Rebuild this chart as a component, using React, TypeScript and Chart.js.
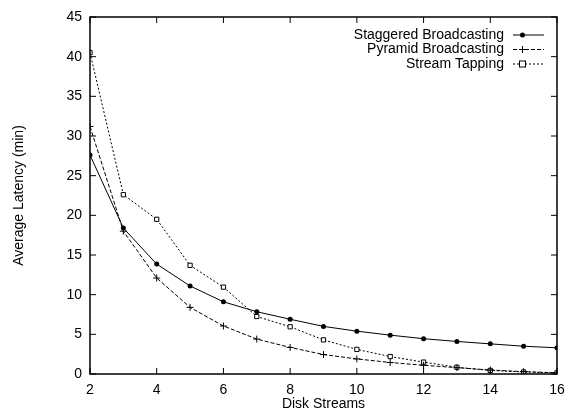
import React, { useEffect, useRef } from "react";
import { Chart, registerables } from "chart.js";

Chart.register(...registerables);

const diskStreams = [2, 3, 4, 5, 6, 7, 8, 9, 10, 11, 12, 13, 14, 15, 16];
const staggered = [27.6, 18.4, 13.85, 11.1, 9.1, 7.85, 6.9, 6.0, 5.4, 4.9, 4.45, 4.1, 3.8, 3.5, 3.3];
const pyramid = [31.2, 18.0, 12.1, 8.4, 6.05, 4.4, 3.35, 2.45, 1.9, 1.45, 1.1, 0.8, 0.5, 0.3, 0.15];
const streamTapping = [40.5, 22.6, 19.5, 13.7, 10.95, 7.25, 5.95, 4.3, 3.1, 2.2, 1.5, 0.85, 0.45, 0.25, 0.15];
const seriesNames = ["Staggered Broadcasting", "Pyramid Broadcasting", "Stream Tapping"];
const yTicks = [0, 5, 10, 15, 20, 25, 30, 35, 40, 45];
const xTicks = [2, 4, 6, 8, 10, 12, 14, 16];

const FONT = "'Liberation Sans', Arial, Helvetica, sans-serif";
const FS = 14;

function drawMarker(ctx: CanvasRenderingContext2D, style: string, x: number, y: number) {
  ctx.save();
  ctx.strokeStyle = "#000";
  ctx.fillStyle = "#000";
  ctx.setLineDash([]);
  ctx.lineWidth = 1;
  if (style === "circle") {
    ctx.beginPath();
    ctx.arc(x, y, 2.5, 0, Math.PI * 2);
    ctx.fill();
  } else if (style === "cross") {
    ctx.beginPath();
    ctx.moveTo(x - 3.5, y);
    ctx.lineTo(x + 3.5, y);
    ctx.moveTo(x, y - 3.5);
    ctx.lineTo(x, y + 3.5);
    ctx.stroke();
  } else {
    ctx.fillStyle = "#fff";
    ctx.fillRect(x - 3, y - 3, 6, 6);
    ctx.strokeRect(x - 3, y - 3, 6, 6);
  }
  ctx.restore();
}

const framePlugin = {
  id: "frame",
  afterDraw(chart: any) {
    const { ctx, chartArea, scales } = chart;
    const { left, right, top, bottom } = chartArea;
    ctx.save();
    ctx.strokeStyle = "#000";
    ctx.lineWidth = 1;
    const tl = 6;
    ctx.beginPath();
    for (const v of xTicks) {
      const px = scales.x.getPixelForValue(v);
      ctx.moveTo(px, bottom);
      ctx.lineTo(px, bottom - tl);
      ctx.moveTo(px, top);
      ctx.lineTo(px, top + tl);
    }
    for (const v of yTicks) {
      const py = scales.y.getPixelForValue(v);
      ctx.moveTo(left, py);
      ctx.lineTo(left + tl, py);
      ctx.moveTo(right, py);
      ctx.lineTo(right - tl, py);
    }
    ctx.stroke();
    ctx.lineWidth = 1.5;
    ctx.strokeRect(left, top, right - left, bottom - top);

    // legend
    const styles = ["circle", "cross", "rect"];
    const dashes = [[], [4, 2], [2, 2]];
    const textRight = right - 53;
    const sx0 = right - 44;
    const sx1 = right - 13;
    ctx.font = `${FS}px ${FONT}`;
    ctx.textAlign = "right";
    ctx.textBaseline = "middle";
    ctx.fillStyle = "#000";
    seriesNames.forEach((name, i) => {
      const y = top + 18 + i * 14.5;
      ctx.fillText(name, textRight, y);
      ctx.save();
      ctx.setLineDash(dashes[i]);
      ctx.lineWidth = 1;
      ctx.beginPath();
      ctx.moveTo(sx0, y);
      ctx.lineTo(sx1, y);
      ctx.stroke();
      ctx.restore();
      drawMarker(ctx, styles[i], (sx0 + sx1) / 2 - 6, y);
    });
    ctx.restore();
  },
};

export default function App() {
  const ref = useRef<HTMLCanvasElement>(null);
  useEffect(() => {
    const toPts = (arr: number[]) => arr.map((v, i) => ({ x: diskStreams[i], y: v }));
    const chart = new Chart(ref.current!, {
      type: "line",
      data: {
        datasets: [
          {
            label: seriesNames[0],
            data: toPts(staggered),
            borderColor: "#000",
            backgroundColor: "#000",
            borderWidth: 1,
            pointStyle: "circle",
            pointRadius: 2.5,
            pointBorderWidth: 0,
            tension: 0,
          },
          {
            label: seriesNames[1],
            data: toPts(pyramid),
            borderColor: "#000",
            backgroundColor: "#000",
            borderWidth: 1,
            borderDash: [4, 2],
            pointStyle: "cross",
            pointRadius: 3.5,
            pointBorderWidth: 1,
            tension: 0,
          },
          {
            label: seriesNames[2],
            data: toPts(streamTapping),
            borderColor: "#000",
            backgroundColor: "#fff",
            borderWidth: 1,
            borderDash: [2, 2],
            pointStyle: "rect",
            pointRadius: 3,
            pointBorderWidth: 1,
            tension: 0,
          },
        ],
      },
      options: {
        responsive: false,
        animation: false,
        layout: { padding: { left: 0, top: 17, right: 9, bottom: 0 } },
        plugins: { legend: { display: false }, tooltip: { enabled: false } },
        scales: {
          x: {
            type: "linear",
            min: 2,
            max: 16,
            grid: { display: false, drawTicks: false },
            border: { display: false },
            ticks: {
              stepSize: 2,
              padding: 8,
              color: "#000",
              font: { family: FONT, size: FS },
              maxRotation: 0,
            },
            title: {
              display: true,
              text: "Disk Streams",
              color: "#000",
              font: { family: FONT, size: FS },
              padding: { top: 0, bottom: 0 },
            },
            afterFit: (s: any) => {
              s.height = 39;
              s.paddingLeft = 0;
              s.paddingRight = 0;
            },
          },
          y: {
            min: 0,
            max: 45,
            grid: { display: false, drawTicks: false },
            border: { display: false },
            ticks: {
              stepSize: 5,
              padding: 8,
              color: "#000",
              font: { family: FONT, size: FS },
            },
            title: {
              display: true,
              text: "Average Latency (min)",
              color: "#000",
              font: { family: FONT, size: FS },
              padding: { top: 11, bottom: 0 },
            },
            afterFit: (s: any) => {
              s.width = 90;
              s.paddingTop = 0;
              s.paddingBottom = 0;
            },
          },
        },
      },
      plugins: [framePlugin],
    });
    return () => chart.destroy();
  }, []);
  return (
    <div style={{ position: "fixed", left: 0, top: 0, width: 566, height: 413, background: "#fff" }}>
      <canvas ref={ref} width={566} height={413} style={{ display: "block" }} />
    </div>
  );
}
